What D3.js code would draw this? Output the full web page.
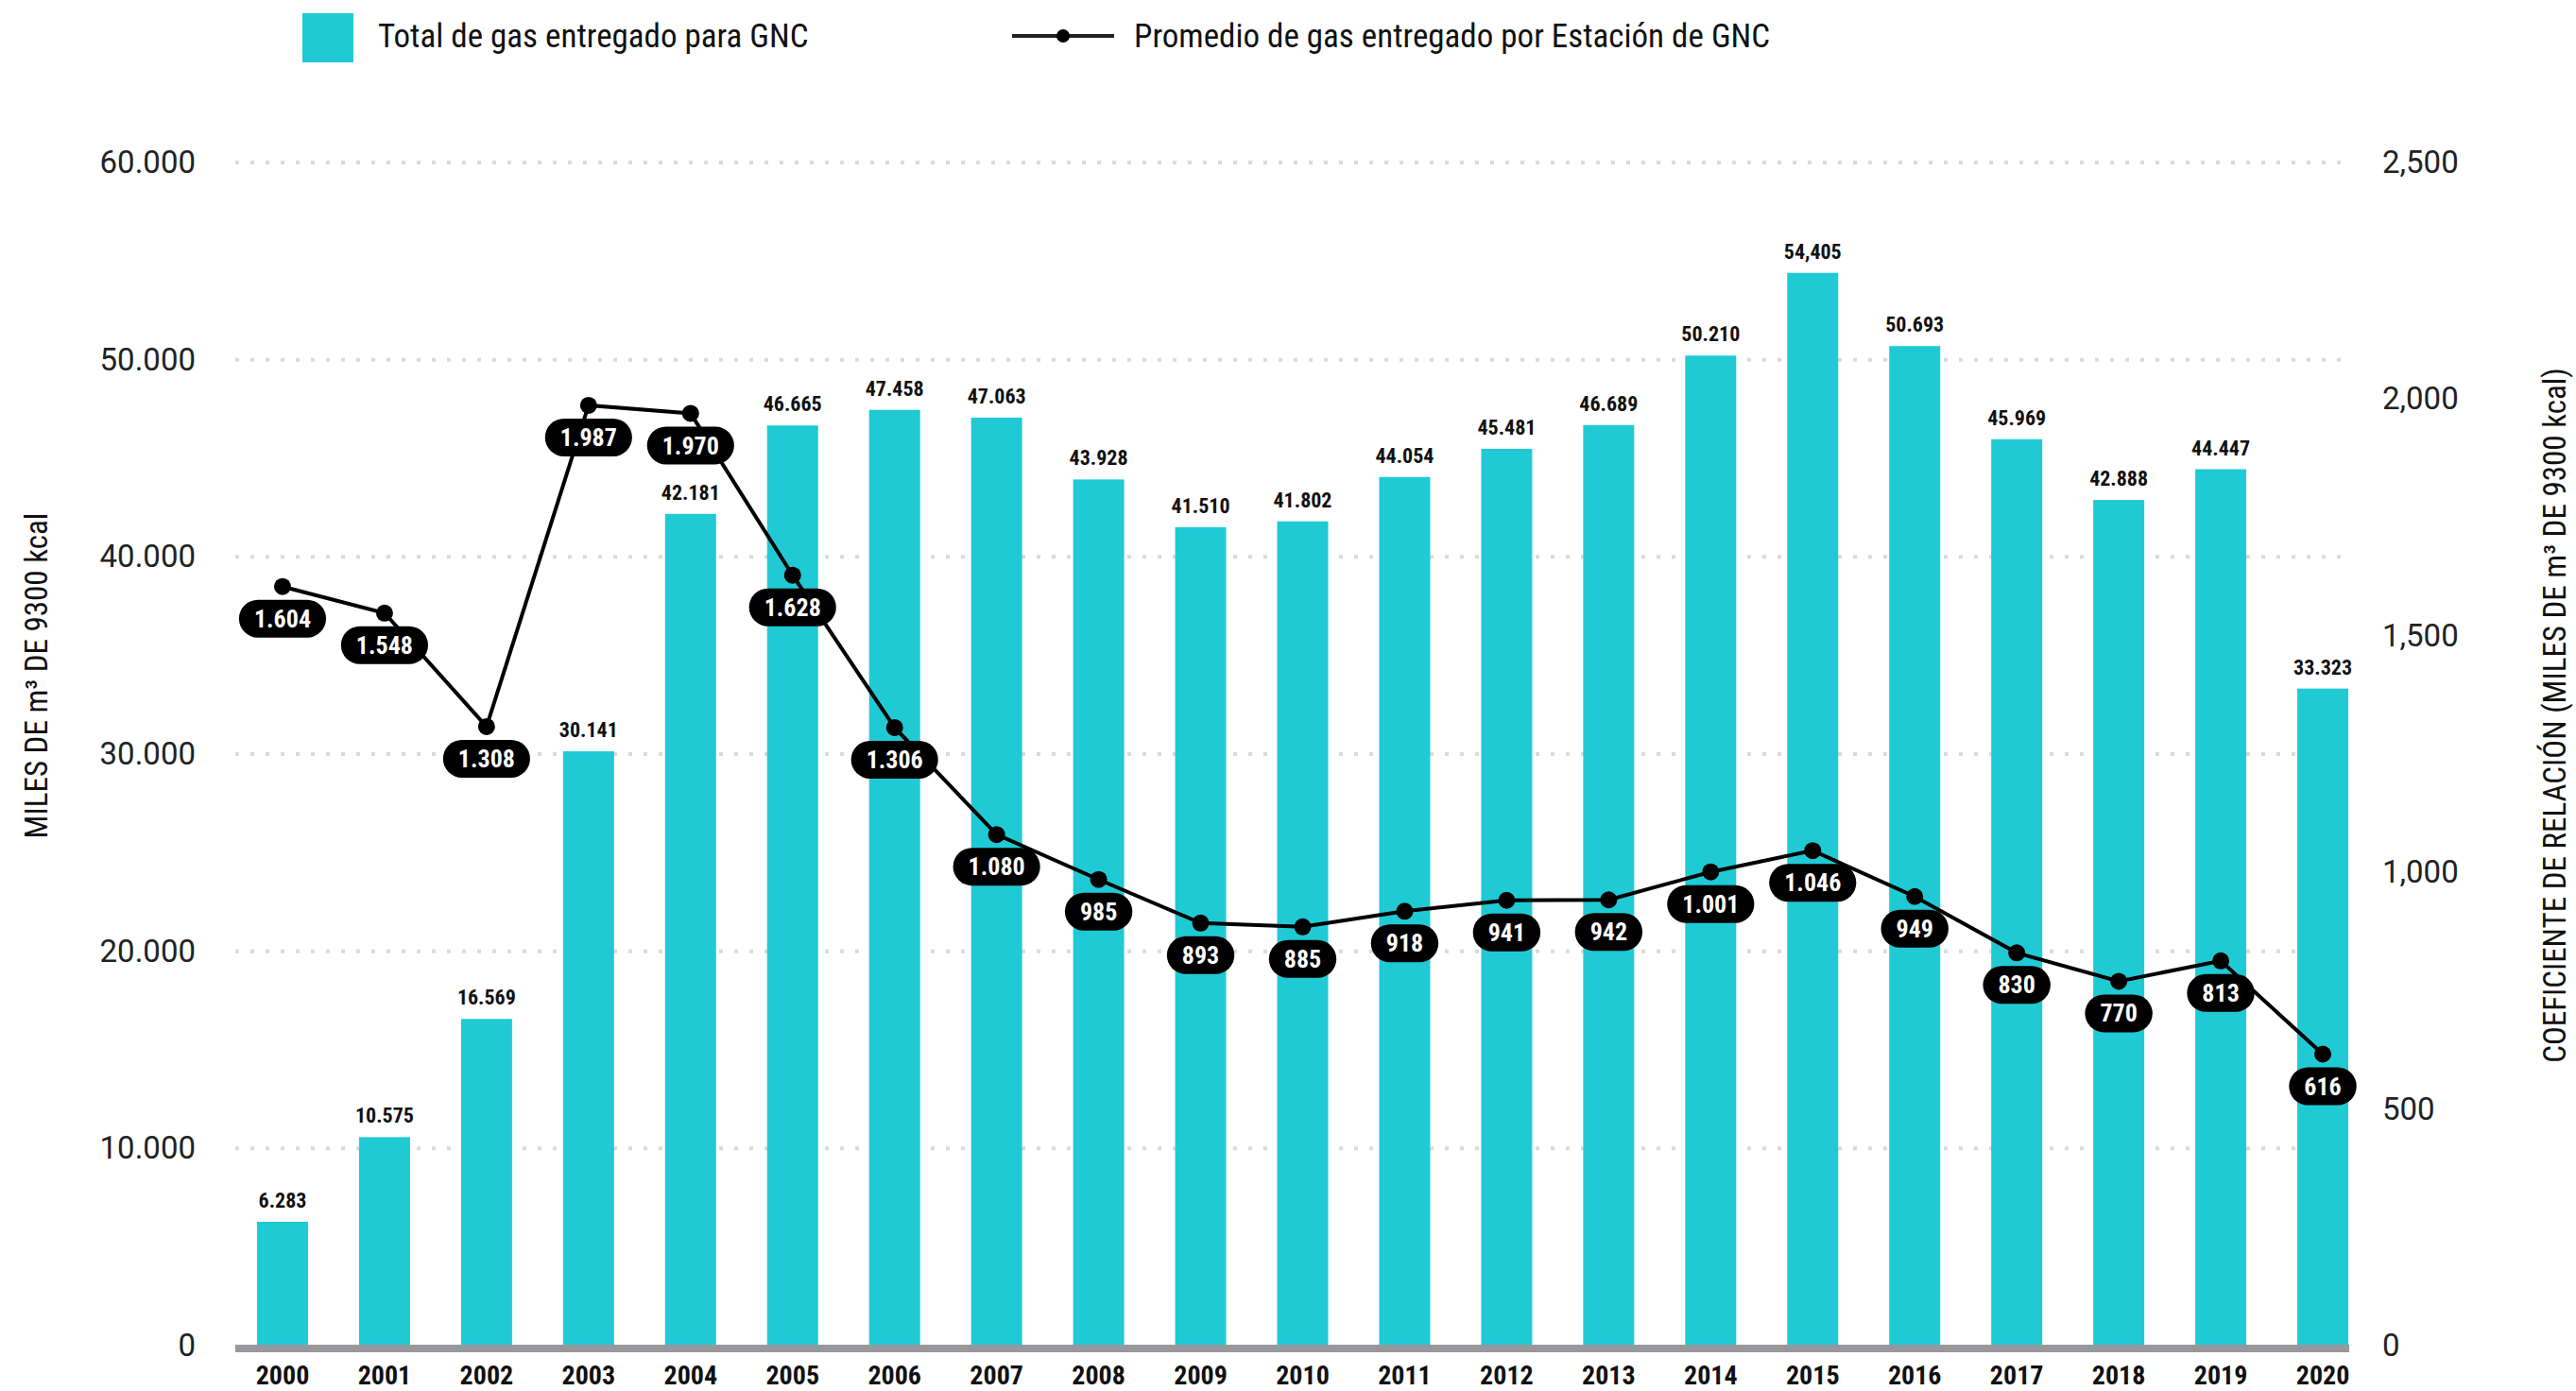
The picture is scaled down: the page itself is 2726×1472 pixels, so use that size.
<!DOCTYPE html>
<html>
<head>
<meta charset="utf-8">
<script src="https://cdn.jsdelivr.net/npm/d3@7"></script>
<style>
  body { margin: 0; background: #fff; }
  svg { display: block; }
</style>
</head>
<body>
<div id="chart"></div>
<script>
// ---- data ----
const years = ['2000','2001','2002','2003','2004','2005','2006','2007','2008','2009','2010',
  '2011','2012','2013','2014','2015','2016','2017','2018','2019','2020'];
const totalGas = [6283, 10575, 16569, 30141, 42181, 46665, 47458, 47063, 43928, 41510, 41802,
  44054, 45481, 46689, 50210, 54405, 50693, 45969, 42888, 44447, 33323];
const totalLabels = ['6.283','10.575','16.569','30.141','42.181','46.665','47.458','47.063','43.928','41.510','41.802',
  '44.054','45.481','46.689','50.210','54,405','50.693','45.969','42.888','44.447','33.323'];
const avgGas = [1604, 1548, 1308, 1987, 1970, 1628, 1306, 1080, 985, 893, 885,
  918, 941, 942, 1001, 1046, 949, 830, 770, 813, 616];
const avgLabels = ['1.604','1.548','1.308','1.987','1.970','1.628','1.306','1.080','985','893','885',
  '918','941','942','1.001','1.046','949','830','770','813','616'];
const leftTicks = [0, 10000, 20000, 30000, 40000, 50000, 60000];
const leftTickLabels = ['0','10.000','20.000','30.000','40.000','50.000','60.000'];
const rightTicks = [0, 500, 1000, 1500, 2000, 2500];
const rightTickLabels = ['0','500','1,000','1,500','2,000','2,500'];
const seriesNames = ['Total de gas entregado para GNC', 'Promedio de gas entregado por Estación de GNC'];
const leftTitle = 'MILES DE m³ DE 9300 kcal';
const rightTitle = 'COEFICIENTE DE RELACIÓN (MILES DE m³ DE 9300 kcal)';

const width = 2726, height = 1472;
const teal = '#1fcad5';
const condensed = "'Roboto Condensed', 'Liberation Sans Narrow', 'DejaVu Sans Condensed', Roboto, sans-serif";
const regular = "Roboto, 'Noto Sans', sans-serif";

const svg = d3.select('#chart').append('svg')
  .attr('width', width).attr('height', height)
  .attr('viewBox', `0 0 ${width} ${height}`);

const x = d3.scaleBand().domain(years).range([245, 2512]).paddingInner(0.5).paddingOuter(0.25);
const yL = d3.scaleLinear().domain([0, 60000]).range([1424, 172]);
const yR = d3.scaleLinear().domain([0, 2500]).range([1424, 172]);

// gridlines
svg.append('g').selectAll('line').data(leftTicks.slice(1)).join('line')
  .attr('x1', 249).attr('x2', 2486)
  .attr('y1', d => yL(d)).attr('y2', d => yL(d))
  .attr('stroke', '#dadada').attr('stroke-width', 4).attr('stroke-dasharray', '4 12');

// left axis
const leftAxis = svg.append('g').attr('transform', 'translate(215,0)')
  .call(d3.axisLeft(yL).tickValues(leftTicks).tickSize(0).tickPadding(8)
    .tickFormat((d, i) => leftTickLabels[i]));
leftAxis.select('.domain').remove();
leftAxis.selectAll('text').attr('font-family', regular).attr('font-size', 33).attr('fill', '#222');

// right axis
const rightAxis = svg.append('g').attr('transform', 'translate(2513,0)')
  .call(d3.axisRight(yR).tickValues(rightTicks).tickSize(0).tickPadding(8)
    .tickFormat((d, i) => rightTickLabels[i]));
rightAxis.select('.domain').remove();
rightAxis.selectAll('text').attr('font-family', regular).attr('font-size', 33).attr('fill', '#222');

// bars
svg.append('g').selectAll('rect').data(years).join('rect')
  .attr('x', d => x(d)).attr('width', x.bandwidth())
  .attr('y', (d, i) => yL(totalGas[i]))
  .attr('height', (d, i) => yL(0) - yL(totalGas[i]))
  .attr('fill', teal);

// bar labels
svg.append('g').selectAll('text').data(years).join('text')
  .attr('x', d => x(d) + x.bandwidth() / 2)
  .attr('y', (d, i) => yL(totalGas[i]) - 15)
  .attr('text-anchor', 'middle')
  .attr('font-family', condensed).attr('font-weight', 700).attr('font-size', 22).attr('fill', '#111')
  .text((d, i) => totalLabels[i]);

// baseline
svg.append('line')
  .attr('x1', 249).attr('x2', 2486).attr('y1', yL(0) + 3).attr('y2', yL(0) + 3)
  .attr('stroke', '#98989c').attr('stroke-width', 8);

// x axis labels
const xAxis = svg.append('g').attr('transform', `translate(0,${yL(0) + 7})`)
  .call(d3.axisBottom(x).tickSize(0).tickPadding(14));
xAxis.select('.domain').remove();
xAxis.selectAll('text').attr('font-family', condensed).attr('font-weight', 700)
  .attr('font-size', 28).attr('fill', '#111');

// line series
const cx = d => x(d) + x.bandwidth() / 2;
const line = d3.line().x(d => cx(d)).y((d, i) => yR(avgGas[i]));
svg.append('path').datum(years)
  .attr('d', line).attr('fill', 'none').attr('stroke', '#000').attr('stroke-width', 4);

svg.append('g').selectAll('circle').data(years).join('circle')
  .attr('cx', cx).attr('cy', (d, i) => yR(avgGas[i])).attr('r', 9).attr('fill', '#000');

// pill labels
const pills = svg.append('g').selectAll('g').data(years).join('g')
  .attr('transform', (d, i) => `translate(${cx(d)},${yR(avgGas[i]) + 34})`);
pills.append('rect').attr('fill', '#000');
const pillText = pills.append('text')
  .attr('text-anchor', 'middle').attr('dy', '0.35em')
  .attr('font-family', condensed).attr('font-weight', 700).attr('font-size', 26).attr('fill', '#fff')
  .text((d, i) => avgLabels[i]);
pillText.each(function () {
  const w = this.getComputedTextLength() + 32;
  d3.select(this.parentNode).select('rect')
    .attr('x', -w / 2).attr('y', -20).attr('width', w).attr('height', 40).attr('rx', 20);
});

// axis titles
svg.append('text')
  .attr('transform', `translate(50,715) rotate(-90)`)
  .attr('text-anchor', 'middle')
  .attr('font-family', condensed).attr('font-size', 33).attr('fill', '#111')
  .text(leftTitle);
svg.append('text')
  .attr('transform', `translate(2715,757) rotate(-90)`)
  .attr('text-anchor', 'middle')
  .attr('font-family', condensed).attr('font-size', 33).attr('fill', '#111')
  .text(rightTitle);

// legend
const legend = svg.append('g');
legend.append('rect').attr('x', 320).attr('y', 14).attr('width', 54).attr('height', 52).attr('fill', teal);
legend.append('text').attr('x', 400).attr('y', 38).attr('dy', '0.35em')
  .attr('font-family', condensed).attr('font-size', 35).attr('fill', '#111')
  .text(seriesNames[0]);
legend.append('line').attr('x1', 1071).attr('x2', 1179).attr('y1', 38).attr('y2', 38)
  .attr('stroke', '#222').attr('stroke-width', 4);
legend.append('circle').attr('cx', 1125).attr('cy', 38).attr('r', 7).attr('fill', '#000');
legend.append('text').attr('x', 1200).attr('y', 38).attr('dy', '0.35em')
  .attr('font-family', condensed).attr('font-size', 35).attr('fill', '#111')
  .text(seriesNames[1]);
</script>
</body>
</html>
